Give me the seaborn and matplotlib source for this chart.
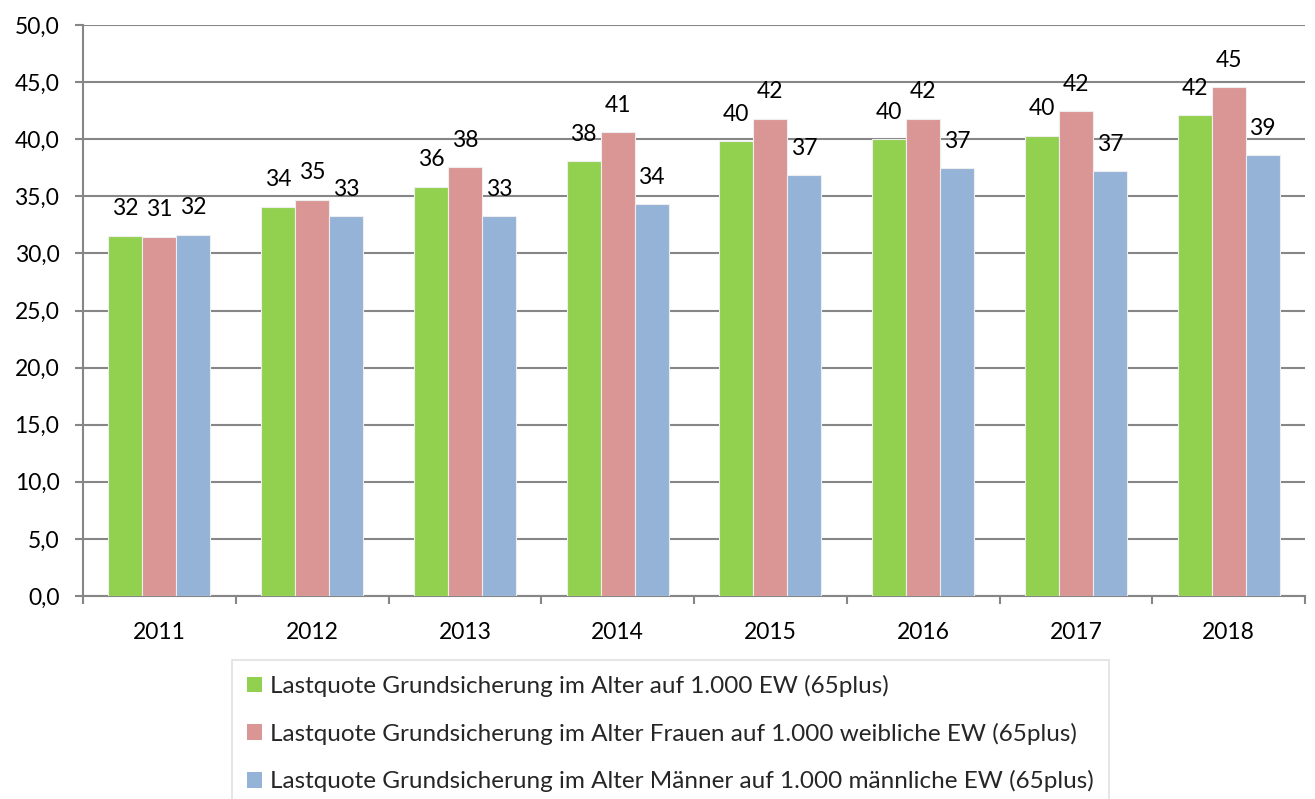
import matplotlib
matplotlib.use("Agg")
import matplotlib.pyplot as plt
import seaborn as sns
import pandas as pd
from matplotlib.ticker import FixedLocator, FuncFormatter
from matplotlib.patches import Patch

years = ["2011", "2012", "2013", "2014", "2015", "2016", "2017", "2018"]
series_names = [
    "Lastquote Grundsicherung im Alter auf 1.000 EW (65plus)",
    "Lastquote Grundsicherung im Alter Frauen auf 1.000 weibliche EW (65plus)",
    "Lastquote Grundsicherung im Alter Männer auf 1.000 männliche EW (65plus)",
]
gesamt = [31.55, 34.06, 35.8, 38.06, 39.8, 40.0, 40.3, 42.1]
frauen = [31.45, 34.7, 37.55, 40.6, 41.8, 41.8, 42.45, 44.55]
maenner = [31.6, 33.25, 33.25, 34.3, 36.85, 37.45, 37.2, 38.6]
colors = ["#92D050", "#D99694", "#95B3D7"]

df = pd.DataFrame({
    "Jahr": years * 3,
    "Serie": [series_names[0]] * 8 + [series_names[1]] * 8 + [series_names[2]] * 8,
    "Wert": gesamt + frauen + maenner,
})

sns.set_theme(style="white")
plt.rcParams["font.family"] = ["Lato", "DejaVu Sans"]

fig = plt.figure(figsize=(13.15, 7.99), dpi=100)
ax = fig.add_axes([83 / 1315, 1 - 596 / 799, (1305 - 83) / 1315, (596 - 25) / 799])

sns.barplot(data=df, x="Jahr", y="Wert", hue="Serie", hue_order=series_names,
            palette=colors, width=0.667, ax=ax, saturation=1, legend=False,
            edgecolor="#EEEEEE", linewidth=0.8, zorder=3)

ax.set_ylim(0, 50)
ax.set_xlim(-0.5, 7.5)
ax.set_yticks([0, 5, 10, 15, 20, 25, 30, 35, 40, 45, 50])
ax.yaxis.set_major_formatter(FuncFormatter(lambda v, p: f"{v:.1f}".replace(".", ",")))
ax.grid(axis="y", color="#868686", linewidth=1.5, zorder=0)
ax.set_axisbelow(True)
ax.set_xlabel("")
ax.set_ylabel("")

for s in ["top", "right"]:
    ax.spines[s].set_visible(False)
for s in ["left", "bottom"]:
    ax.spines[s].set_color("#868686")
    ax.spines[s].set_linewidth(1.5)

ax.tick_params(axis="y", which="major", length=6, width=1.5, color="#868686",
               labelsize=16.5, pad=11, labelcolor="black", left=True)
ax.tick_params(axis="x", which="major", length=0, labelsize=16.5, pad=19, labelcolor="black")
ax.xaxis.set_minor_locator(FixedLocator([i - 0.5 for i in range(9)]))
ax.tick_params(axis="x", which="minor", length=6, width=1.5, color="#868686",
               direction="out", bottom=True)

for cont in ax.containers:
    ax.bar_label(cont, fmt="{:.0f}", padding=12, fontsize=16.5, color="black")

handles = [Patch(facecolor=c, edgecolor="none") for c in colors]
leg = fig.legend(handles, series_names, loc="upper left",
                 bbox_to_anchor=(232 / 1315, 1 - 660 / 799),
                 frameon=True, fontsize=17.5, handlelength=0.6, handleheight=0.6,
                 handletextpad=0.35, labelspacing=1.05, borderpad=0.62,
                 fancybox=False, borderaxespad=0)
leg.get_frame().set_edgecolor("#D9D9D9")
leg.get_frame().set_linewidth(1.2)

fig.savefig("out.png", dpi=100)
